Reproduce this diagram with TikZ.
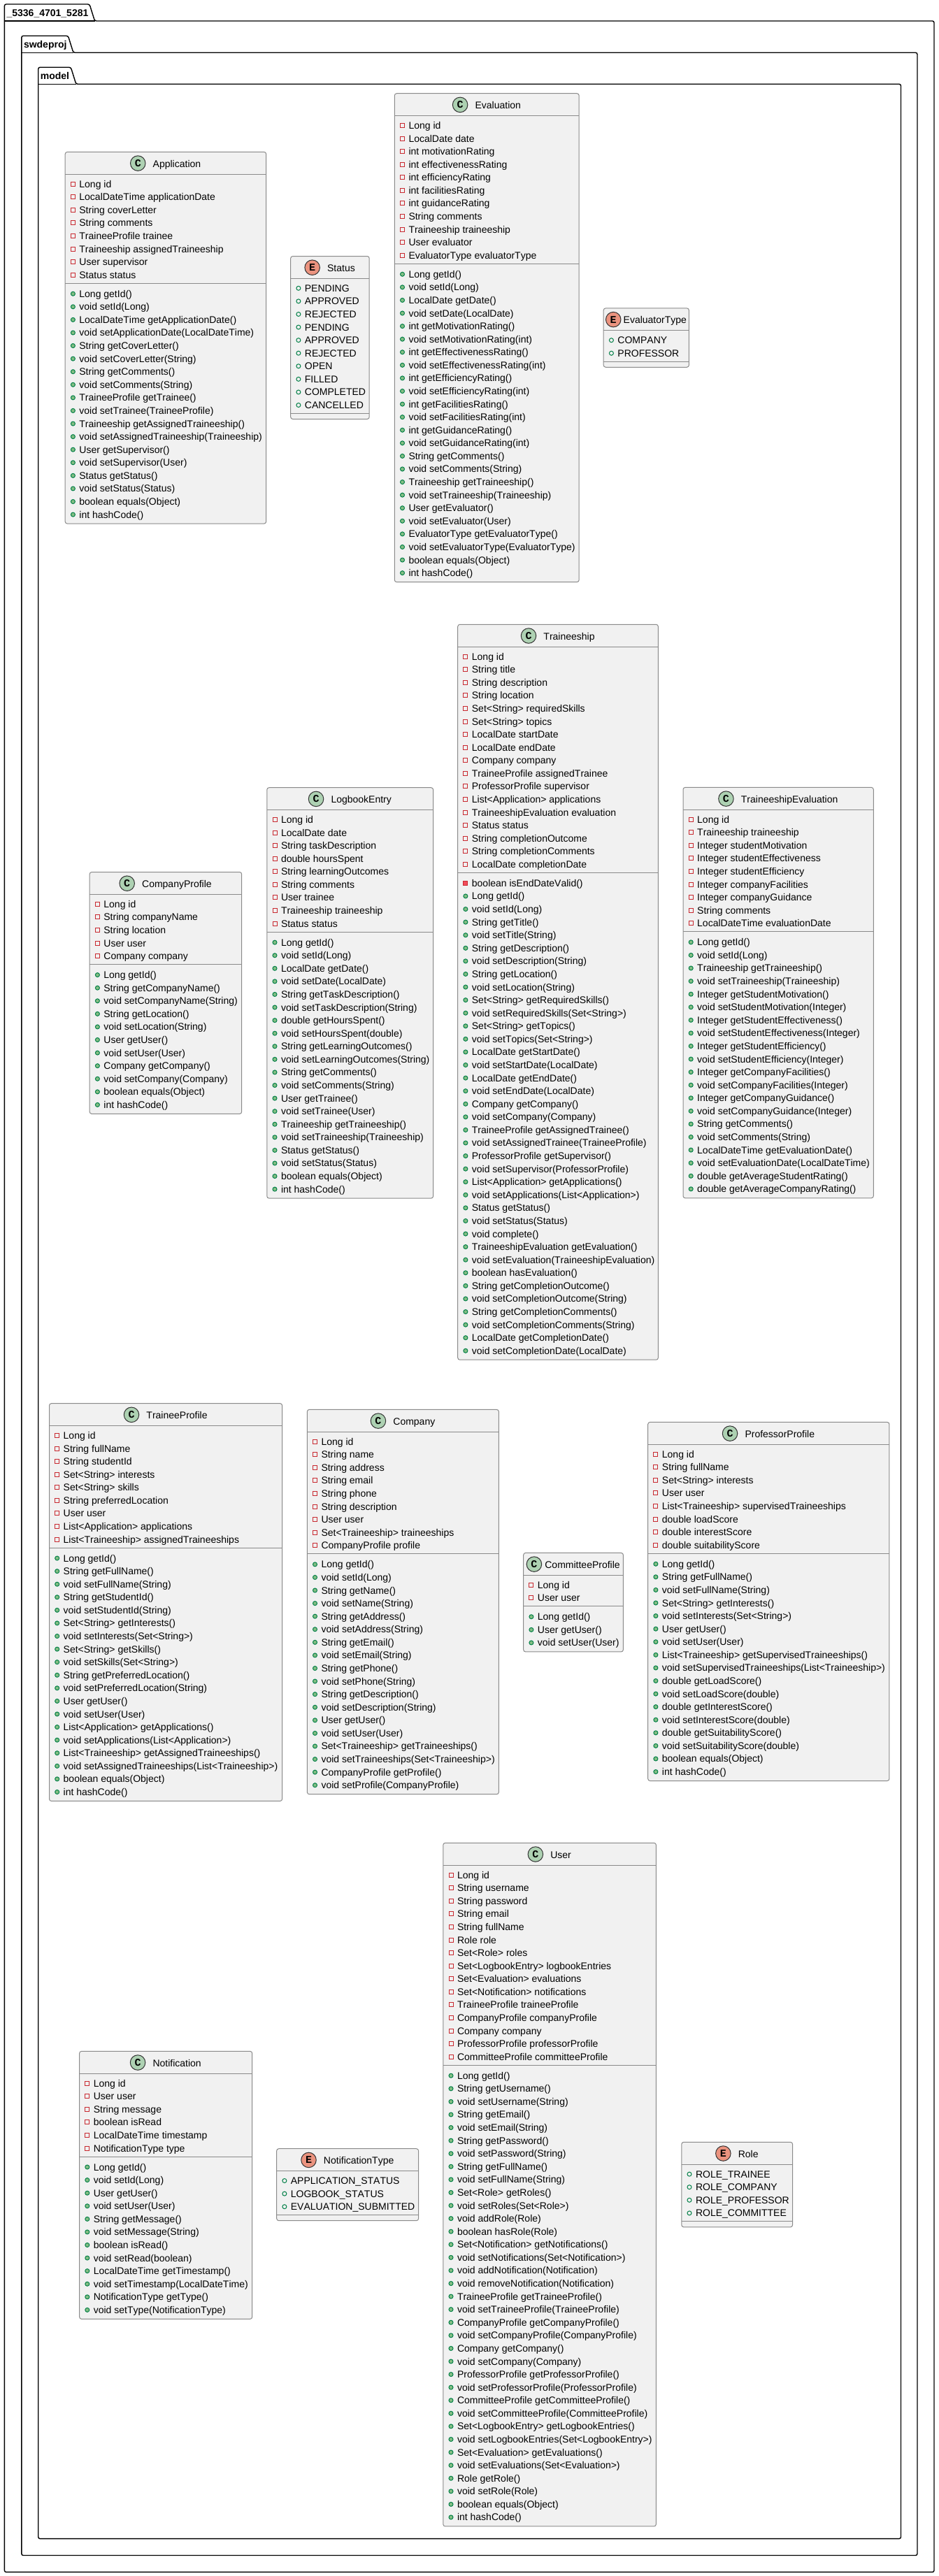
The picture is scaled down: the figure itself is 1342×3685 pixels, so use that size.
\documentclass[tikz,border=0pt]{standalone}
\usepackage{fontspec}
\setmainfont[Kerning=Off,Ligatures=NoCommon]{Liberation Sans}
\newfontfamily\spotfont[Kerning=Off]{Liberation Mono}
\usetikzlibrary{positioning}
\definecolor{boxfill}{HTML}{F1F1F1}
\definecolor{boxline}{HTML}{8A8A8A}
\definecolor{classspot}{HTML}{ADD1B2}
\definecolor{enumspot}{HTML}{EB937F}
\definecolor{privred}{HTML}{C82930}
\definecolor{privfill}{HTML}{F24D5C}
\definecolor{pubgreen}{HTML}{038048}
\definecolor{pubfill}{HTML}{84BE84}
\newcommand{\rowpitch}{18.58}
\newcommand{\umlhead}[6]{% name, x0, y0, x1, gap, spot style
  \node[classtitle] (#1-title) at ({(#2+#4)/2+(22+#5)/2},{#3+16.2}) {#1};
  \node[#6,left=#5pt of #1-title] (#1-spot) {};
  \draw[boxrule] (#2,#3+32) -- (#4,#3+32);
}
\newcommand{\umlclass}[8]{% name, x0, y0, x1, gap, fields, methods, private methods
  \foreach \txt [count=\i] in {#6} {\xdef\nfields{\i}}
  \foreach \txt [count=\i] in {#7} {\xdef\nmethods{\i}}
  \pgfmathsetmacro{\ysep}{#3+32+\nfields*\rowpitch+7.2}
  \pgfmathsetmacro{\yend}{\ysep+\nmethods*\rowpitch+9.4}
  \node[classbox,anchor=north west,minimum width={(#4-#2)*1pt},minimum height={(\yend-#3)*1pt}] (#1) at (#2,#3) {};
  \umlhead{#1}{#2}{#3}{#4}{#5}{classletter}
  \draw[boxrule] (#2,\ysep) -- (#4,\ysep);
  \foreach \txt [count=\i] in {#6} {
    \node[rowtext] (#1-f\i) at (#2+20,{#3+32+13.8+(\i-1)*\rowpitch}) {\txt};
    \node[privfield,left=5.3pt of #1-f\i] (#1-fm\i) {};
  }
  \foreach \txt [count=\i] in {#7} {
    \ifnum\i>#8\def\mk{pubmethod}\else\def\mk{privmethod}\fi
    \node[rowtext] (#1-m\i) at (#2+20,{\ysep+15+(\i-1)*\rowpitch}) {\txt};
    \node[\mk,left=5.3pt of #1-m\i] (#1-mm\i) {};
  }
}
\newcommand{\umlenum}[6]{% name, x0, y0, x1, gap, constants
  \foreach \txt [count=\i] in {#6} {\xdef\nfields{\i}}
  \pgfmathsetmacro{\ysep}{#3+32+\nfields*\rowpitch+7.2}
  \pgfmathsetmacro{\yend}{\ysep+8}
  \node[classbox,anchor=north west,minimum width={(#4-#2)*1pt},minimum height={(\yend-#3)*1pt}] (#1) at (#2,#3) {};
  \umlhead{#1}{#2}{#3}{#4}{#5}{enumletter}
  \draw[boxrule] (#2,\ysep) -- (#4,\ysep);
  \foreach \txt [count=\i] in {#6} {
    \node[rowtext] (#1-f\i) at (#2+20,{#3+32+13.8+(\i-1)*\rowpitch}) {\txt};
    \node[pubfield,left=5.3pt of #1-f\i] (#1-fm\i) {};
  }
}
\newcommand{\umlpackage}[6]{% node name, x0, y0, x1, y1, tab end
  \draw[pkgline,rounded corners=2.5pt] (#2,#3) -- (#6,#3) -- (#6+7.5,#3+24) -- (#4,#3+24) -- (#4,#5) -- (#2,#5) -- cycle;
  \draw[pkgline] (#2,#3+24) -- (#6+7.5,#3+24);
}
\begin{document}
\begin{tikzpicture}[x=1pt,y=-1pt]
\tikzset{
  pkgline/.style={draw=black,line width=1.4pt},
  pkglabel/.style={anchor=base west,inner sep=0,font=\fontsize{14pt}{16pt}\selectfont\bfseries},
  classbox/.style={draw=boxline,fill=boxfill,line width=1pt,rounded corners=3pt,inner sep=0,outer sep=0},
  boxrule/.style={draw=boxline,line width=1pt},
  classtitle/.style={inner sep=0,text height=11.2pt,text depth=0pt,font=\fontsize{14pt}{16pt}\selectfont},
  rowtext/.style={anchor=west,inner sep=0,text height=10pt,text depth=0pt,font=\fontsize{14pt}{16pt}\selectfont},
  classletter/.style={circle,draw=black!80,fill=classspot,line width=1pt,minimum size=21.5pt,inner sep=0,
    label={[inner sep=0,font=\fontsize{15pt}{16pt}\spotfont\bfseries]center:C}},
  enumletter/.style={circle,draw=black!80,fill=enumspot,line width=1pt,minimum size=21.5pt,inner sep=0,
    label={[inner sep=0,font=\fontsize{15pt}{16pt}\spotfont\bfseries]center:E}},
  privfield/.style={rectangle,draw=privred,line width=1pt,minimum size=6pt,inner sep=0},
  privmethod/.style={rectangle,draw=privred,fill=privfill,line width=1pt,minimum size=6pt,inner sep=0},
  pubmethod/.style={circle,draw=pubgreen,fill=pubfill,line width=1pt,minimum size=6pt,inner sep=0},
  pubfield/.style={circle,draw=pubgreen,line width=1pt,minimum size=6pt,inner sep=0}
}
\useasboundingbox (0,0) rectangle (1342,3685);

\umlpackage{root}{6.4}{6}{1336}{3679.4}{128}
\node[pkglabel] (root-label) at (9.4,23.3) {\_5336\_4701\_5281};
\umlpackage{swdeproj}{30.8}{51.3}{1312}{3655.5}{97.4}
\node[pkglabel] (swdeproj-label) at (33.8,68.6) {swdeproj};
\umlpackage{model}{54.7}{96.3}{1288.5}{3631.6}{101.3}
\node[pkglabel] (model-label) at (57.7,113.6) {model};

\umlclass{Application}{93.2}{217.4}{380.7}{10}
  {Long id, LocalDateTime applicationDate, String coverLetter, String comments, TraineeProfile trainee,
   Traineeship assignedTraineeship, User supervisor, Status status}
  {Long getId(), void setId(Long), LocalDateTime getApplicationDate(), void setApplicationDate(LocalDateTime),
   String getCoverLetter(), void setCoverLetter(String), String getComments(), void setComments(String),
   TraineeProfile getTrainee(), void setTrainee(TraineeProfile), Traineeship getAssignedTraineeship(),
   void setAssignedTraineeship(Traineeship), User getSupervisor(), void setSupervisor(User), Status getStatus(),
   void setStatus(Status), boolean equals(Object), int hashCode()}{0}

\umlenum{Status}{415.7}{366.5}{528.2}{10}
  {PENDING, APPROVED, REJECTED, PENDING, APPROVED, REJECTED, OPEN, FILLED, COMPLETED, CANCELLED}

\umlclass{Evaluation}{564.3}{133.7}{828.2}{10}
  {Long id, LocalDate date, int motivationRating, int effectivenessRating, int efficiencyRating,
   int facilitiesRating, int guidanceRating, String comments, Traineeship traineeship, User evaluator,
   EvaluatorType evaluatorType}
  {Long getId(), void setId(Long), LocalDate getDate(), void setDate(LocalDate), int getMotivationRating(),
   void setMotivationRating(int), int getEffectivenessRating(), void setEffectivenessRating(int),
   int getEfficiencyRating(), void setEfficiencyRating(int), int getFacilitiesRating(),
   void setFacilitiesRating(int), int getGuidanceRating(), void setGuidanceRating(int), String getComments(),
   void setComments(String), Traineeship getTraineeship(), void setTraineeship(Traineeship), User getEvaluator(),
   void setEvaluator(User), EvaluatorType getEvaluatorType(), void setEvaluatorType(EvaluatorType),
   boolean equals(Object), int hashCode()}{0}

\umlenum{EvaluatorType}{863.2}{440.9}{985.4}{3}
  {COMPANY, PROFESSOR}

\umlclass{CompanyProfile}{128.2}{1247.5}{345.7}{10}
  {Long id, String companyName, String location, User user, Company company}
  {Long getId(), String getCompanyName(), void setCompanyName(String), String getLocation(),
   void setLocation(String), User getUser(), void setUser(User), Company getCompany(), void setCompany(Company),
   boolean equals(Object), int hashCode()}{0}

\umlclass{LogbookEntry}{381.8}{1126.7}{619.6}{10}
  {Long id, LocalDate date, String taskDescription, double hoursSpent, String learningOutcomes, String comments,
   User trainee, Traineeship traineeship, Status status}
  {Long getId(), void setId(Long), LocalDate getDate(), void setDate(LocalDate), String getTaskDescription(),
   void setTaskDescription(String), double getHoursSpent(), void setHoursSpent(double),
   String getLearningOutcomes(), void setLearningOutcomes(String), String getComments(), void setComments(String),
   User getTrainee(), void setTrainee(User), Traineeship getTraineeship(), void setTraineeship(Traineeship),
   Status getStatus(), void setStatus(Status), boolean equals(Object), int hashCode()}{0}

\umlclass{Traineeship}{654.7}{893.3}{941.4}{10}
  {Long id, String title, String description, String location, Set<String> requiredSkills, Set<String> topics,
   LocalDate startDate, LocalDate endDate, Company company, TraineeProfile assignedTrainee,
   ProfessorProfile supervisor, List<Application> applications, TraineeshipEvaluation evaluation, Status status,
   String completionOutcome, String completionComments, LocalDate completionDate}
  {boolean isEndDateValid(), Long getId(), void setId(Long), String getTitle(), void setTitle(String),
   String getDescription(), void setDescription(String), String getLocation(), void setLocation(String),
   Set<String> getRequiredSkills(), void setRequiredSkills(Set<String>), Set<String> getTopics(),
   void setTopics(Set<String>), LocalDate getStartDate(), void setStartDate(LocalDate), LocalDate getEndDate(),
   void setEndDate(LocalDate), Company getCompany(), void setCompany(Company), TraineeProfile getAssignedTrainee(),
   void setAssignedTrainee(TraineeProfile), ProfessorProfile getSupervisor(), void setSupervisor(ProfessorProfile),
   List<Application> getApplications(), void setApplications(List<Application>), Status getStatus(),
   void setStatus(Status), void complete(), TraineeshipEvaluation getEvaluation(),
   void setEvaluation(TraineeshipEvaluation), boolean hasEvaluation(), String getCompletionOutcome(),
   void setCompletionOutcome(String), String getCompletionComments(), void setCompletionComments(String),
   LocalDate getCompletionDate(), void setCompletionDate(LocalDate)}{1}

\umlclass{TraineeshipEvaluation}{977}{1126.4}{1249.3}{10}
  {Long id, Traineeship traineeship, Integer studentMotivation, Integer studentEffectiveness,
   Integer studentEfficiency, Integer companyFacilities, Integer companyGuidance, String comments,
   LocalDateTime evaluationDate}
  {Long getId(), void setId(Long), Traineeship getTraineeship(), void setTraineeship(Traineeship),
   Integer getStudentMotivation(), void setStudentMotivation(Integer), Integer getStudentEffectiveness(),
   void setStudentEffectiveness(Integer), Integer getStudentEfficiency(), void setStudentEfficiency(Integer),
   Integer getCompanyFacilities(), void setCompanyFacilities(Integer), Integer getCompanyGuidance(),
   void setCompanyGuidance(Integer), String getComments(), void setComments(String),
   LocalDateTime getEvaluationDate(), void setEvaluationDate(LocalDateTime), double getAverageStudentRating(),
   double getAverageCompanyRating()}{0}

\umlclass{TraineeProfile}{70.5}{2007.6}{403.6}{10}
  {Long id, String fullName, String studentId, Set<String> interests, Set<String> skills,
   String preferredLocation, User user, List<Application> applications, List<Traineeship> assignedTraineeships}
  {Long getId(), String getFullName(), void setFullName(String), String getStudentId(), void setStudentId(String),
   Set<String> getInterests(), void setInterests(Set<String>), Set<String> getSkills(), void setSkills(Set<String>),
   String getPreferredLocation(), void setPreferredLocation(String), User getUser(), void setUser(User),
   List<Application> getApplications(), void setApplications(List<Application>),
   List<Traineeship> getAssignedTraineeships(), void setAssignedTraineeships(List<Traineeship>),
   boolean equals(Object), int hashCode()}{0}

\umlclass{Company}{439.3}{2016.4}{713.4}{10}
  {Long id, String name, String address, String email, String phone, String description, User user,
   Set<Traineeship> traineeships, CompanyProfile profile}
  {Long getId(), void setId(Long), String getName(), void setName(String), String getAddress(),
   void setAddress(String), String getEmail(), void setEmail(String), String getPhone(), void setPhone(String),
   String getDescription(), void setDescription(String), User getUser(), void setUser(User),
   Set<Traineeship> getTraineeships(), void setTraineeships(Set<Traineeship>), CompanyProfile getProfile(),
   void setProfile(CompanyProfile)}{0}

\umlclass{CommitteeProfile}{748.7}{2221.4}{891.4}{4}
  {Long id, User user}
  {Long getId(), User getUser(), void setUser(User)}{0}

\umlclass{ProfessorProfile}{926.7}{2034.4}{1271.9}{10}
  {Long id, String fullName, Set<String> interests, User user, List<Traineeship> supervisedTraineeships,
   double loadScore, double interestScore, double suitabilityScore}
  {Long getId(), String getFullName(), void setFullName(String), Set<String> getInterests(),
   void setInterests(Set<String>), User getUser(), void setUser(User), List<Traineeship> getSupervisedTraineeships(),
   void setSupervisedTraineeships(List<Traineeship>), double getLoadScore(), void setLoadScore(double),
   double getInterestScore(), void setInterestScore(double), double getSuitabilityScore(),
   void setSuitabilityScore(double), boolean equals(Object), int hashCode()}{0}

\umlclass{Notification}{113.6}{2934.3}{360.7}{10}
  {Long id, User user, String message, boolean isRead, LocalDateTime timestamp, NotificationType type}
  {Long getId(), void setId(Long), User getUser(), void setUser(User), String getMessage(),
   void setMessage(String), boolean isRead(), void setRead(boolean), LocalDateTime getTimestamp(),
   void setTimestamp(LocalDateTime), NotificationType getType(), void setType(NotificationType)}{0}

\umlenum{NotificationType}{395.7}{3073.7}{598.6}{10}
  {APPLICATION\_STATUS, LOGBOOK\_STATUS, EVALUATION\_SUBMITTED}

\umlclass{User}{633.8}{2636.3}{938.4}{10}
  {Long id, String username, String password, String email, String fullName, Role role, Set<Role> roles,
   Set<LogbookEntry> logbookEntries, Set<Evaluation> evaluations, Set<Notification> notifications,
   TraineeProfile traineeProfile, CompanyProfile companyProfile, Company company,
   ProfessorProfile professorProfile, CommitteeProfile committeeProfile}
  {Long getId(), String getUsername(), void setUsername(String), String getEmail(), void setEmail(String),
   String getPassword(), void setPassword(String), String getFullName(), void setFullName(String),
   Set<Role> getRoles(), void setRoles(Set<Role>), void addRole(Role), boolean hasRole(Role),
   Set<Notification> getNotifications(), void setNotifications(Set<Notification>),
   void addNotification(Notification), void removeNotification(Notification), TraineeProfile getTraineeProfile(),
   void setTraineeProfile(TraineeProfile), CompanyProfile getCompanyProfile(),
   void setCompanyProfile(CompanyProfile), Company getCompany(), void setCompany(Company),
   ProfessorProfile getProfessorProfile(), void setProfessorProfile(ProfessorProfile),
   CommitteeProfile getCommitteeProfile(), void setCommitteeProfile(CommitteeProfile),
   Set<LogbookEntry> getLogbookEntries(), void setLogbookEntries(Set<LogbookEntry>), Set<Evaluation> getEvaluations(),
   void setEvaluations(Set<Evaluation>), Role getRole(), void setRole(Role), boolean equals(Object),
   int hashCode()}{0}

\umlenum{Role}{974.8}{3064.3}{1133.6}{10}
  {ROLE\_TRAINEE, ROLE\_COMPANY, ROLE\_PROFESSOR, ROLE\_COMMITTEE}
\end{tikzpicture}
\end{document}
